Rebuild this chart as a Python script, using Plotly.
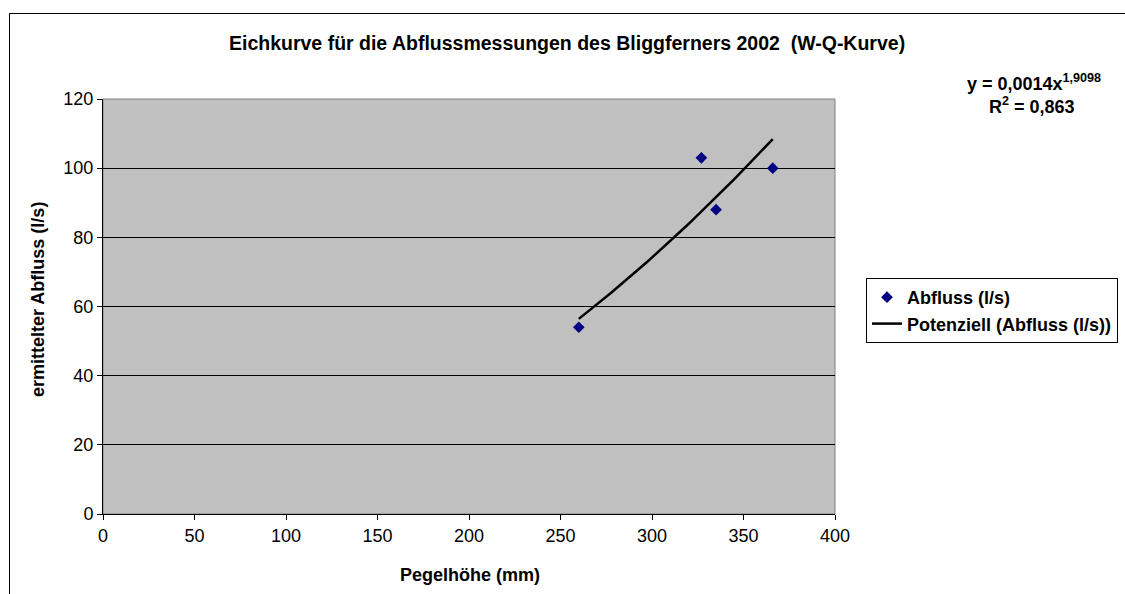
import numpy as np
import plotly.graph_objects as go

# Data
pegel_mm = [260, 327, 335, 366]
abfluss_ls = [54, 103, 88, 100]
x_ticks = [0, 50, 100, 150, 200, 250, 300, 350, 400]
y_ticks = [0, 20, 40, 60, 80, 100, 120]

# Power trendline (Excel "Potenziell"): least squares in log-log space
b, ln_a = np.polyfit(np.log(pegel_mm), np.log(abfluss_ls), 1)
a = np.exp(ln_a)
xt = np.linspace(min(pegel_mm), max(pegel_mm), 100)
yt = a * xt ** b

W, H = 1125, 594
L, R, T, B = 103, 835, 99, 514  # plot area pixel bounds
def px(xp):
    return (xp - L) / (R - L)
def py(yp):
    return (B - yp) / (B - T)

font = "Arial, Liberation Sans, sans-serif"

fig = go.Figure()
fig.add_trace(go.Scatter(
    x=pegel_mm, y=abfluss_ls, mode="markers", name="<b>Abfluss (l/s)</b>",
    marker=dict(symbol="diamond", color="#000080", size=9, line=dict(width=0)),
))
fig.add_trace(go.Scatter(
    x=xt, y=yt, mode="lines", name="<b>Potenziell (Abfluss (l/s))</b>",
    line=dict(color="black", width=2.5),
))

fig.update_layout(
    width=W, height=H, autosize=False,
    margin=dict(l=L, r=W - R, t=T, b=H - B, pad=0, autoexpand=False),
    paper_bgcolor="white", plot_bgcolor="#C0C0C0",
    font=dict(family=font, size=18, color="black"),
    showlegend=True,
    legend=dict(
        x=px(866), y=py(278), xanchor="left", yanchor="top",
        bordercolor="black", borderwidth=1, bgcolor="white",
        font=dict(family=font, size=18, color="black"),
        tracegroupgap=0, itemwidth=30,
    ),
    xaxis=dict(
        range=[0, 400], tickvals=x_ticks, ticks="outside", ticklen=5,
        tickcolor="black", showline=True, linecolor="black", linewidth=1,
        showgrid=False, zeroline=False, mirror=False,
        tickfont=dict(size=18),
    ),
    yaxis=dict(
        range=[0, 120], tickvals=y_ticks, ticks="outside", ticklen=5,
        tickcolor="black", showline=True, linecolor="black", linewidth=1,
        showgrid=True, gridcolor="black", gridwidth=1, zeroline=False,
        tickfont=dict(size=18),
    ),
    shapes=[
        # plot area border (gray)
        dict(type="rect", xref="paper", yref="paper", x0=0, x1=1, y0=0, y1=1,
             line=dict(color="#808080", width=1), layer="below"),
        # outer chart frame
        dict(type="rect", xref="paper", yref="paper",
             x0=px(9.5), x1=px(1140), y0=py(605), y1=py(13.5),
             line=dict(color="black", width=1)),
    ],
    annotations=[
        dict(text="<b>Eichkurve für die Abflussmessungen des Bliggferners 2002  (W-Q-Kurve)</b>",
             xref="paper", yref="paper", x=px(567), y=py(43), showarrow=False,
             xanchor="center", yanchor="middle", font=dict(size=19.5)),
        dict(text="<b>Pegelhöhe (mm)</b>", xref="paper", yref="paper",
             x=px(470), y=py(575), showarrow=False,
             xanchor="center", yanchor="middle", font=dict(size=18)),
        dict(text="<b>ermittelter Abfluss (l/s)</b>", xref="paper", yref="paper",
             x=px(38), y=py(300), showarrow=False, textangle=-90,
             xanchor="center", yanchor="middle", font=dict(size=18)),
        dict(text="<b>y = 0,0014x<sup>1,9098</sup></b>", xref="paper", yref="paper",
             x=px(1034), y=py(82), showarrow=False,
             xanchor="center", yanchor="middle", font=dict(size=18)),
        dict(text="<b>R<sup>2</sup> = 0,863</b>", xref="paper", yref="paper",
             x=px(1032), y=py(106), showarrow=False,
             xanchor="center", yanchor="middle", font=dict(size=18)),
    ],
)

fig.write_html("out.html", config={"displayModeBar": False},
               post_script="document.body.style.margin='0';document.body.style.overflow='hidden';")
